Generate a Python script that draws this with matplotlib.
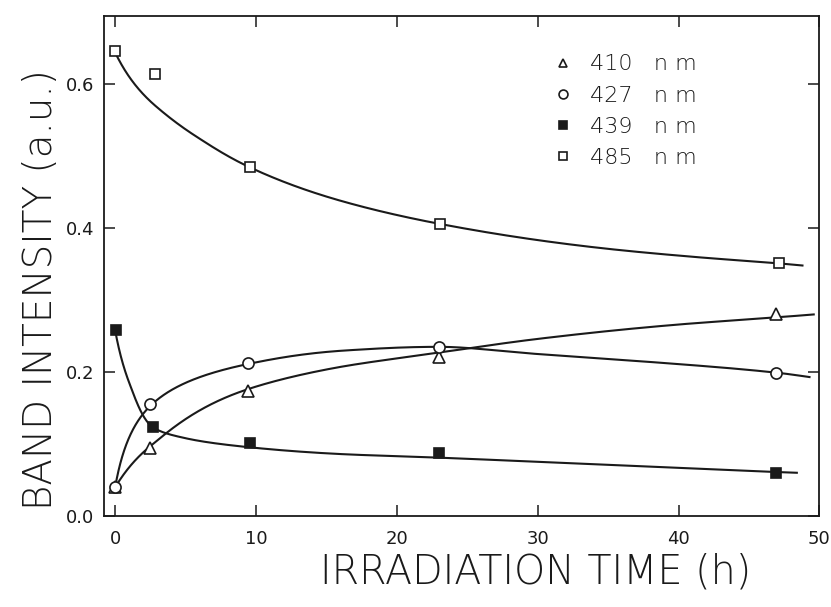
import numpy as np
import matplotlib
matplotlib.use("Agg")
import matplotlib.pyplot as plt

# ---- measured data (markers) ----
t_410 = [0.0, 2.5, 9.4, 23.0, 46.9]
v_410 = [0.040, 0.095, 0.174, 0.221, 0.281]
t_427 = [0.0, 2.5, 9.4, 23.0, 46.9]
v_427 = [0.040, 0.155, 0.212, 0.235, 0.199]
t_439 = [0.07, 2.7, 9.55, 23.0, 46.9]
v_439 = [0.258, 0.123, 0.101, 0.0875, 0.060]
t_485 = [0.0, 2.85, 9.55, 23.1, 47.1]
v_485 = [0.646, 0.614, 0.485, 0.406, 0.351]

# ---- fitted curves at several times ----
fit410_t = [0.0, 2.5, 9.4, 15.4, 23.0, 30.0, 40.0, 47.0, 49.6]
fit410_v = [0.040, 0.097, 0.176, 0.205, 0.227, 0.246, 0.266, 0.276, 0.280]
fit427_t = [0.0, 2.5, 9.4, 16.4, 23.0, 30.0, 40.0, 47.0, 49.3]
fit427_v = [0.040, 0.153, 0.211, 0.230, 0.235, 0.225, 0.211, 0.199, 0.193]
fit439_t = [0.0, 1.0, 2.7, 5.0, 9.5, 16.0, 23.0, 35.0, 47.0, 48.4]
fit439_v = [0.258, 0.185, 0.123, 0.108, 0.0955, 0.086, 0.081, 0.071, 0.061, 0.060]
fit485_t = [0.0, 2.85, 5.7, 9.5, 16.0, 23.0, 34.6, 41.7, 47.1, 48.8]
fit485_v = [0.644, 0.570, 0.528, 0.485, 0.438, 0.406, 0.372, 0.359, 0.351, 0.348]

labels = ["410   n m", "427   n m", "439   n m", "485   n m"]
x_ticks = [0, 10, 20, 30, 40, 50]
y_ticks = [0.0, 0.2, 0.4, 0.6]


def smooth_curve(xk, yk, n=600):
    """Monotone cubic (PCHIP) through the read-off points, in log(1+t) space."""
    u = np.log1p(np.asarray(xk, float))
    y = np.asarray(yk, float)
    N = len(u)
    h = np.diff(u); d = np.diff(y) / h
    m = np.zeros(N)
    for k in range(1, N - 1):
        if d[k - 1] * d[k] > 0:
            w1 = 2 * h[k] + h[k - 1]; w2 = h[k] + 2 * h[k - 1]
            m[k] = (w1 + w2) / (w1 / d[k - 1] + w2 / d[k])

    def endslope(h0, h1, d0, d1):
        s = ((2 * h0 + h1) * d0 - h0 * d1) / (h0 + h1)
        if np.sign(s) != np.sign(d0):
            s = 0.0
        elif np.sign(d0) != np.sign(d1) and abs(s) > abs(3 * d0):
            s = 3 * d0
        return s
    m[0] = endslope(h[0], h[1], d[0], d[1])
    m[-1] = endslope(h[-1], h[-2], d[-1], d[-2])
    uu = np.linspace(u[0], u[-1], n)
    idx = np.clip(np.searchsorted(u, uu) - 1, 0, N - 2)
    t = (uu - u[idx]) / h[idx]
    h00 = 2 * t**3 - 3 * t**2 + 1; h10 = t**3 - 2 * t**2 + t
    h01 = -2 * t**3 + 3 * t**2; h11 = t**3 - t**2
    yy = h00 * y[idx] + h10 * h[idx] * m[idx] + h01 * y[idx + 1] + h11 * h[idx] * m[idx + 1]
    return np.expm1(uu), yy


plt.rcParams['font.family'] = ['DejaVu Sans']

fig = plt.figure(figsize=(8.31, 6.07), dpi=100)
ax = fig.add_axes([0.125, 0.150, 0.861, 0.824])

lc = '#1a1a1a'
for ft, fv in [(fit410_t, fit410_v), (fit427_t, fit427_v), (fit439_t, fit439_v), (fit485_t, fit485_v)]:
    xs, ys = smooth_curve(ft, fv)
    ax.plot(xs, ys, color=lc, lw=1.5, zorder=2)

ms = 8
ax.plot(t_410, v_410, ls='none', marker='^', ms=ms, mfc='white', mec=lc, mew=1.2, label=labels[0], zorder=3)
ax.plot(t_427, v_427, ls='none', marker='o', ms=ms, mfc='white', mec=lc, mew=1.2, label=labels[1], zorder=4)
ax.plot(t_439, v_439, ls='none', marker='s', ms=ms - 0.5, mfc=lc, mec=lc, mew=1.2, label=labels[2], zorder=3)
ax.plot(t_485, v_485, ls='none', marker='s', ms=ms - 0.5, mfc='white', mec=lc, mew=1.2, label=labels[3], zorder=3)

ax.set_xlim(-0.8, 50)
ax.set_ylim(0, 0.695)
ax.set_xticks(x_ticks)
ax.set_yticks(y_ticks)
ax.set_yticklabels([f"{v:.1f}" for v in y_ticks])
ax.tick_params(direction='in', length=8, width=1.1, top=True, right=True,
               labelsize=13, colors=lc, pad=10)
ax.tick_params(axis='y', pad=7)
for s in ax.spines.values():
    s.set_linewidth(1.3)
    s.set_color(lc)

ax.set_xlabel("IRRADIATION TIME (h)", fontsize=28.5, color=lc, fontweight='light')
ax.set_ylabel("BAND INTENSITY (a.u.)", fontsize=28, color=lc, fontweight='light')
ax.xaxis.set_label_coords(0.604, -0.074)
ax.yaxis.set_label_coords(-0.062, 0.452)

leg = ax.legend(loc='upper left', bbox_to_anchor=(0.61, 0.945), frameon=False,
                handletextpad=0.75, labelspacing=0.5,
                handlelength=1.0, markerscale=0.8, borderpad=0,
                prop={'weight': 'light', 'size': 16})
for t in leg.get_texts():
    t.set_color(lc)

fig.savefig("out.png", dpi=100, facecolor='white')
